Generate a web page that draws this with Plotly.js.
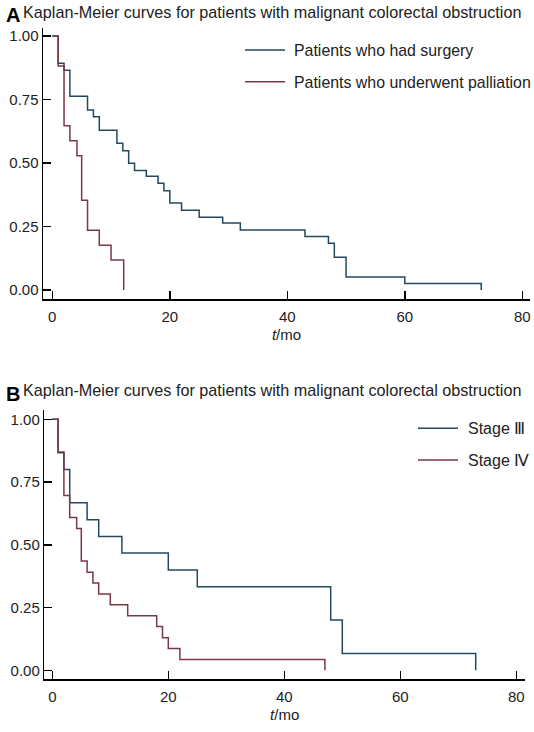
<!DOCTYPE html>
<html>
<head>
<meta charset="utf-8">
<script src="https://cdn.plot.ly/plotly-3.0.1.min.js"></script>
<style>html,body{margin:0;padding:0;background:#fff;}#chart{width:534px;height:732px;}</style>
</head>
<body>
<div id="chart"></div>
<script>
// Panel A: surgery vs palliation
const surgeryTime = [0, 1, 2, 3, 6, 7, 8, 11, 12, 13, 14, 16, 18, 19, 20, 22, 25, 29, 32, 43, 47, 48, 50, 60, 73];
const surgerySurv = [1, 0.893, 0.865, 0.763, 0.709, 0.682, 0.629, 0.578, 0.548, 0.499, 0.470, 0.448, 0.420, 0.391, 0.343, 0.314, 0.286, 0.264, 0.236, 0.211, 0.184, 0.129, 0.051, 0.026, 0];
const palliationTime = [0, 1, 2, 3, 4.2, 5, 6, 8, 10, 12.15];
const palliationSurv = [1, 0.882, 0.647, 0.588, 0.529, 0.353, 0.235, 0.176, 0.118, 0];
// Panel B: stage III vs stage IV
const stage3Time = [0, 1, 2, 3, 6, 8, 12, 20, 25, 48, 50, 73];
const stage3Surv = [1, 0.867, 0.8, 0.667, 0.6, 0.533, 0.467, 0.4, 0.333, 0.2, 0.067, 0];
const stage4Time = [0, 1, 2, 3, 4.2, 5, 6, 7, 8, 10, 13, 18, 19, 20, 22, 47];
const stage4Surv = [1, 0.870, 0.696, 0.609, 0.565, 0.435, 0.391, 0.348, 0.304, 0.261, 0.217, 0.174, 0.130, 0.087, 0.043, 0];

const namesA = ["Patients who had surgery", "Patients who underwent palliation"];
const namesB = ["Stage \u2162", "Stage \u2163"];
const panelTitle = "Kaplan-Meier curves for patients with malignant colorectal obstruction";
const xTicks = [0, 20, 40, 60, 80];
const yTicks = [0, 0.25, 0.5, 0.75, 1];
const yTickText = ["0.00", "0.25", "0.50", "0.75", "1.00"];
const xTitle = "<i>t</i>/mo";

const W = 534, H = 732;
const BLUE = "#22495f", RED = "#7b3844";
const COLORS = [BLUE, RED];
const FONT = "Liberation Sans, Arial, sans-serif";

function px(x){return x/W;}
function py(y){return 1 - y/H;}

const traces = [
  {x: surgeryTime, y: surgerySurv, name: namesA[0], xaxis: "x", yaxis: "y"},
  {x: palliationTime, y: palliationSurv, name: namesA[1], xaxis: "x", yaxis: "y"},
  {x: stage3Time, y: stage3Surv, name: namesB[0], xaxis: "x2", yaxis: "y2"},
  {x: stage4Time, y: stage4Surv, name: namesB[1], xaxis: "x2", yaxis: "y2"}
].map((t, i) => Object.assign({type: "scatter", mode: "lines", showlegend: false, line: {shape: "hv", width: 1.5, color: COLORS[i % 2]}, hoverinfo: "skip"}, t));

function xaxis(domain, range, anchor){
  return {domain: domain, range: range, anchor: anchor, tickvals: xTicks, ticks: "inside", ticklen: 8, tickwidth: 1.5, tickcolor: "#000",
    showline: true, linecolor: "#000", linewidth: 1.5, showgrid: false, zeroline: false, fixedrange: true, automargin: false,
    ticklabelstandoff: 3,
    tickfont: {family: FONT, size: 15, color: "#222"},
    title: {text: xTitle, font: {family: FONT, size: 15, color: "#222"}, standoff: 6}};
}
function yaxis(domain, range, anchor){
  return {domain: domain, range: range, anchor: anchor, tickvals: yTicks, ticktext: yTickText, ticks: "inside", ticklen: 8, tickwidth: 1.5, tickcolor: "#000",
    showline: true, linecolor: "#000", linewidth: 1.5, showgrid: false, zeroline: false, fixedrange: true, automargin: false,
    tickfont: {family: FONT, size: 15, color: "#222"}};
}

// Legend keys (line sample + label), placed in paper coordinates
const legendSpecs = [
  {names: namesA, x0: 245, x1: 285, tx: 292, ys: [50, 81.7], size: 15.9},
  {names: namesB, x0: 418, x1: 458, tx: 466, ys: [428.3, 460], size: 16}
];
const shapes = [];
const legendAnn = [];
legendSpecs.forEach(spec => {
  spec.names.forEach((nm, i) => {
    shapes.push({type: "line", xref: "paper", yref: "paper", x0: px(spec.x0), x1: px(spec.x1), y0: py(spec.ys[i]), y1: py(spec.ys[i]),
      line: {color: COLORS[i], width: 1.5}});
    legendAnn.push({text: nm, xref: "paper", yref: "paper", x: px(spec.tx), y: py(spec.ys[i] + 0.5), xanchor: "left", yanchor: "middle",
      showarrow: false, font: {family: FONT, size: spec.size, color: "#222"}});
  });
});

const layout = {
  width: W, height: H,
  margin: {l: 0, r: 0, t: 0, b: 0, autoexpand: false},
  paper_bgcolor: "#fff", plot_bgcolor: "#fff",
  showlegend: false,
  xaxis: xaxis([px(43), px(530)], [-1.58, 81.3], "y"),
  yaxis: yaxis([py(299), py(28)], [-0.0354, 1.0315], "x"),
  xaxis2: xaxis([px(44.3), px(525)], [-1.38, 81.5], "y2"),
  yaxis2: yaxis([py(679), py(410)], [-0.0347, 1.037], "x2"),
  shapes: shapes,
  annotations: [
    {text: "<b>A</b>", xref: "paper", yref: "paper", x: px(4), y: py(15.5), xanchor: "left", yanchor: "middle", showarrow: false, font: {family: FONT, size: 20, color: "#000"}},
    {text: panelTitle, xref: "paper", yref: "paper", x: px(21), y: py(12), xanchor: "left", yanchor: "middle", showarrow: false, font: {family: FONT, size: 16.2, color: "#222"}},
    {text: "<b>B</b>", xref: "paper", yref: "paper", x: px(4), y: py(394.5), xanchor: "left", yanchor: "middle", showarrow: false, font: {family: FONT, size: 20, color: "#000"}},
    {text: panelTitle, xref: "paper", yref: "paper", x: px(21), y: py(390), xanchor: "left", yanchor: "middle", showarrow: false, font: {family: FONT, size: 16.2, color: "#222"}}
  ].concat(legendAnn)
};

Plotly.newPlot("chart", traces, layout, {staticPlot: true, displayModeBar: false});
</script>
</body>
</html>
